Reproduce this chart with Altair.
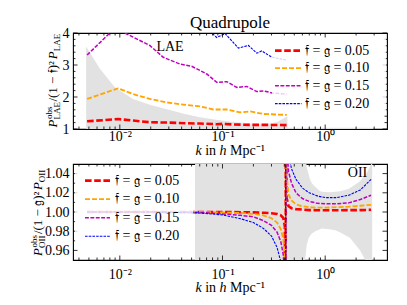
import altair as alt
import pandas as pd

FONT = "Liberation Serif"
W, H = 314, 96

# ---------------- data ----------------
series_labels = ["𝔣 = 𝔤 = 0.05", "𝔣 = 𝔤 = 0.10", "𝔣 = 𝔤 = 0.15", "𝔣 = 𝔤 = 0.20"]
series_colors = ["#ff0000", "#ffa500", "#bf00bf", "#0000ff"]
series_widths = [2.6, 1.8, 1.5, 1.1]
series_dashes = [[6.6, 2.6], [5.0, 2.0], [3.9, 1.5], [2.6, 1.1]]

x_domain = [0.0035, 4.0]
x_tick_values = [0.01, 0.1, 1.0]
x_tick_labels = ["10⁻²", "10⁻¹", "10⁰"]
x_minor_ticks = [0.004, 0.005, 0.006, 0.007, 0.008, 0.009,
                 0.02, 0.03, 0.04, 0.05, 0.06, 0.07, 0.08, 0.09,
                 0.2, 0.3, 0.4, 0.5, 0.6, 0.7, 0.8, 0.9, 2.0, 3.0]
# x-axis title "k in h Mpc⁻¹" (k and h italic), word by word
x_title_words = ["k", "in", "h", "Mpc⁻¹"]
x_title_styles = ["italic", "normal", "italic", "normal"]
x_title_offsets = [0.0, 9.7, 24.1, 34.6]
x_title_width = 69.0

# LAE panel
lae_y_domain = [1, 4]
lae_y_major = [1, 2, 3, 4]
lae_y_minor = [1.2, 1.4, 1.6, 1.8, 2.2, 2.4, 2.6, 2.8, 3.2, 3.4, 3.6, 3.8]

lae_band_k = [0.0047, 0.0064, 0.0089, 0.0134, 0.0200, 0.0288, 0.0430, 0.0603,
              0.0900, 0.126, 0.190, 0.272, 0.340, 0.428, 0.430, 2.9]
lae_band_hi = [3.58, 2.88, 2.31, 1.94, 1.75, 1.62, 1.47, 1.37,
               1.28, 1.22, 1.17, 1.16, 1.22, 1.40, 1.04, 1.04]
lae_band_lo = [0.9] * len(lae_band_k)

lae_k = [
    [0.0048, 0.0096, 0.0196, 0.03, 0.0448, 0.06, 0.0878, 0.1, 0.13, 0.1854, 0.25, 0.423],
    [0.0048, 0.0096, 0.0135, 0.0196, 0.0286, 0.0448, 0.0603, 0.0813, 0.1099, 0.1482,
     0.1854, 0.25, 0.423],
    [0.0048, 0.0080, 0.0095, 0.0112, 0.0196, 0.0265, 0.0385, 0.0501, 0.0702, 0.0878,
     0.1099, 0.1376, 0.1722, 0.2157, 0.25, 0.313, 0.423],
    [0.060, 0.0786, 0.0877, 0.106, 0.143, 0.179, 0.216, 0.241, 0.30, 0.423],
]
lae_v = [
    [1.24, 1.31, 1.21, 1.20, 1.18, 1.17, 1.15, 1.16, 1.14, 1.13, 1.13, 1.12],
    [1.94, 2.27, 2.09, 1.94, 1.83, 1.75, 1.71, 1.61, 1.61, 1.52, 1.55, 1.47, 1.44],
    [3.31, 4.0, 4.12, 4.0, 3.61, 3.24, 3.03, 2.96, 2.72, 2.46, 2.48, 2.30, 2.33,
     2.17, 2.19, 2.12, 2.09],
    [4.4, 4.0, 3.86, 3.98, 3.53, 3.61, 3.37, 3.44, 3.25, 3.15],
]

# OII panel
oii_y_domain = [0.95, 1.05]
oii_y_major = [0.96, 0.98, 1.00, 1.02, 1.04]
oii_y_minor = [0.97, 0.99, 1.01, 1.03]

oii_band_k = [0.054, 0.62, 0.638, 0.66, 0.687, 0.71, 0.742, 0.80, 0.89, 0.929, 1.1,
              1.252, 1.39, 1.688, 1.75, 2.113, 2.19, 2.455, 2.55, 2.8, 2.87]
oii_band_hi = [1.2, 1.2, 1.07, 1.047, 1.040, 1.034, 1.030, 1.026, 1.022, 1.021, 1.0205,
               1.021, 1.0215, 1.024, 1.025, 1.031, 1.032, 1.039, 1.041, 1.05, 1.06]
oii_band_lo = [0.8, 0.8, 0.95, 0.965, 0.9724, 0.975, 0.9776, 0.980, 0.982, 0.9827, 0.982,
               0.981, 0.979, 0.974, 0.973, 0.962, 0.960, 0.95, 0.945, 0.93, 0.93]

oii_k = [0.0048, 0.02, 0.06, 0.1, 0.15, 0.2, 0.25, 0.3, 0.34, 0.37, 0.39, 0.405,
         0.4128, 0.4132, 0.42, 0.44, 0.47, 0.52, 0.6, 0.7, 0.85, 1.0, 1.3, 1.7, 2.2, 2.8]
oii_v = [
    [1.0, 1.0, 1.0, 1.0, 0.9998, 0.9996, 0.9992, 0.9987, 0.998, 0.9965, 0.994, 0.985,
     0.6, 1.4, 1.015, 1.006, 1.004, 1.003, 1.0025, 1.002, 1.0018, 1.0018, 1.0018, 1.002,
     1.002, 1.0023],
    [1.0, 1.0, 1.0, 0.9995, 0.999, 0.998, 0.9965, 0.9935, 0.989, 0.982, 0.972, 0.955,
     0.6, 1.4, 1.04, 1.018, 1.012, 1.008, 1.006, 1.005, 1.0045, 1.0045, 1.005, 1.0055,
     1.0065, 1.0075],
    [1.0, 1.0, 0.9995, 0.998, 0.9965, 0.995, 0.991, 0.986, 0.979, 0.969, 0.956, 0.93,
     0.6, 1.4, 1.07, 1.042, 1.03, 1.02, 1.014, 1.011, 1.009, 1.0085, 1.0085, 1.0095,
     1.013, 1.0175],
    [1.0, 1.0, 0.999, 0.997, 0.993, 0.989, 0.983, 0.975, 0.963, 0.948, 0.92, 0.86,
     0.6, 1.4, 1.10, 1.06, 1.045, 1.034, 1.025, 1.02, 1.0165, 1.015, 1.015, 1.0175,
     1.023, 1.034],
]

BAND_COLOR = "#e2e2e2"
PANEL_TITLE = "Quadrupole"

# ---------------- helpers ----------------
label_expr = " : ".join(
    f"abs(datum.value - {v}) < {v / 100} ? '{t}'" for v, t in zip(x_tick_values, x_tick_labels)
) + " : ''"

xscale = alt.Scale(type="log", domain=x_domain, nice=False)


def panel(band_k, band_lo, band_hi, ks, vs, ydom, ymaj, ymin, yfmt,
          legend_box, legend_rows, legend_sym_x, legend_txt_x, tag, tag_xy, title_parts,
          x_label_pad, x_title_y, top_title=None):
    xaxis = alt.Axis(values=x_tick_values, labelExpr=label_expr, title=None,
                     labelPadding=x_label_pad, ticks=False, tickSize=0,
                     domain=False, grid=False, labelFlush=False, labelOverlap=False)
    yscale = alt.Scale(domain=ydom, nice=False, zero=False)
    yaxis = alt.Axis(values=ymaj, format=yfmt, title=None, labelPadding=4, ticks=False,
                     tickSize=0, domain=False, grid=False, labelOverlap=False)
    X = alt.X("k:Q", scale=xscale, axis=xaxis)

    band = alt.Chart(pd.DataFrame({"k": band_k, "lo": band_lo, "hi": band_hi})).mark_area(
        color=BAND_COLOR, clip=True, opacity=1
    ).encode(x=X, y=alt.Y("lo:Q", scale=yscale, axis=yaxis), y2="hi:Q")

    layers = [band]
    for i in range(4):
        df = pd.DataFrame({"k": ks[i], "v": vs[i], "i": range(len(ks[i]))})
        layers.append(
            alt.Chart(df).mark_line(
                clip=True, color=series_colors[i], strokeWidth=series_widths[i],
                strokeDash=series_dashes[i]
            ).encode(x=X, y=alt.Y("v:Q", scale=yscale, axis=yaxis), order="i:Q")
        )

    # inward ticks on all four sides
    for vals, L in [(x_tick_values, 4.5), (x_minor_ticks, 2.5)]:
        base = alt.Chart(pd.DataFrame({"k": vals})).mark_rule(color="black", strokeWidth=0.8)
        layers.append(base.encode(x=X, y=alt.value(H), y2=alt.value(H - L)))
        layers.append(base.encode(x=X, y=alt.value(0), y2=alt.value(L)))
    for vals, L in [(ymaj, 4.5), (ymin, 2.5)]:
        base = alt.Chart(pd.DataFrame({"v": vals})).mark_rule(color="black", strokeWidth=0.8)
        Y = alt.Y("v:Q", scale=yscale, axis=yaxis)
        layers.append(base.encode(y=Y, x=alt.value(0), x2=alt.value(L)))
        layers.append(base.encode(y=Y, x=alt.value(W), x2=alt.value(W - L)))

    # legend (semi-transparent frame, symbols, labels)
    x0, x1, y0, y1 = legend_box
    layers.append(alt.Chart().mark_rect(color="white", opacity=0.8).encode(
        x=alt.value(x0), x2=alt.value(x1), y=alt.value(y0), y2=alt.value(y1)))
    for i in range(4):
        layers.append(alt.Chart().mark_rule(
            color=series_colors[i], strokeWidth=series_widths[i], strokeDash=series_dashes[i]
        ).encode(x=alt.value(legend_sym_x[0]), x2=alt.value(legend_sym_x[1]),
                 y=alt.value(legend_rows[i])))
        layers.append(alt.Chart().mark_text(
            text=series_labels[i], align="left", baseline="middle", font=FONT, fontSize=14,
            color="black"
        ).encode(x=alt.value(legend_txt_x), y=alt.value(legend_rows[i])))

    layers.append(alt.Chart().mark_text(
        text=tag, align="center", baseline="middle", font=FONT, fontSize=14, color="black"
    ).encode(x=alt.value(tag_xy[0]), y=alt.value(tag_xy[1])))

    if top_title:
        layers.append(alt.Chart().mark_text(
            text=top_title, align="center", baseline="alphabetic", font=FONT, fontSize=17,
            color="black"
        ).encode(x=alt.value(W / 2), y=alt.value(-5)))

    # x-axis title with italic k and h
    x_start = W / 2 - x_title_width / 2
    for word, style, off in zip(x_title_words, x_title_styles, x_title_offsets):
        layers.append(alt.Chart().mark_text(
            text=word, align="left", baseline="alphabetic", font=FONT, fontSize=14,
            fontStyle=style, color="black"
        ).encode(x=alt.value(x_start + off), y=alt.value(H + x_title_y)))

    # rotated y-axis title built from pieces (main text, super/subscripts)
    for txt, size, style, dx, ypos in title_parts:
        layers.append(alt.Chart().mark_text(
            text=txt, angle=270, align="left", baseline="alphabetic", font=FONT,
            fontSize=size, fontStyle=style, color="black"
        ).encode(x=alt.value(dx), y=alt.value(ypos)))

    return alt.layer(*layers).properties(width=W, height=H)


def title_pieces(base_x, start, sub, sub_w, mid, mid_w=42.4):
    p_w = 7.9
    return [
        ("P", 13, "italic", base_x, start),
        ("obs", 9, "normal", base_x - 5.5, start - p_w - 0.5),
        (sub, 9, "normal", base_x + 3, start - p_w),
        (mid, 13, "normal", base_x, start - p_w - sub_w - 0.5),
        ("P", 13, "italic", base_x, start - p_w - sub_w - 0.5 - mid_w),
        (sub, 9, "normal", base_x + 3, start - 2 * p_w - sub_w - 0.5 - mid_w),
    ]


top = panel(
    lae_band_k, lae_band_lo, lae_band_hi, lae_k, lae_v, lae_y_domain, lae_y_major,
    lae_y_minor, "d",
    legend_box=(199, 313, 6, 80), legend_rows=[17.6, 35.2, 52.8, 70.6],
    legend_sym_x=(202, 228.5), legend_txt_x=232, tag="LAE", tag_xy=(97, 14),
    title_parts=title_pieces(-16, 94.5, "LAE", 17.5, "/(1 − 𝔣)²"),
    x_label_pad=0, x_title_y=26, top_title=PANEL_TITLE,
)

bottom = panel(
    oii_band_k, oii_band_lo, oii_band_hi, [oii_k] * 4, oii_v, oii_y_domain, oii_y_major,
    oii_y_minor, ".2f",
    legend_box=(2, 120, 4, 84), legend_rows=[16.6, 35.2, 53.8, 72.3],
    legend_sym_x=(12, 37), legend_txt_x=42, tag="OII", tag_xy=(284.5, 9),
    title_parts=title_pieces(-31, 92, "OII", 13.5, "/(1 − 𝔤)²", 44),
    x_label_pad=7, x_title_y=32,
)

chart = alt.vconcat(top, bottom, spacing=4).properties(
    padding={"left": 20, "top": 5, "right": 5, "bottom": 2}
).configure_view(stroke="black", strokeWidth=1.1).configure_axis(
    labelFont=FONT, labelFontSize=14, labelColor="black",
    titleFont=FONT, titleFontSize=14, titleFontWeight="normal", titleColor="black"
)

chart.save("out.html", embed_options={"renderer": "svg", "actions": False})
